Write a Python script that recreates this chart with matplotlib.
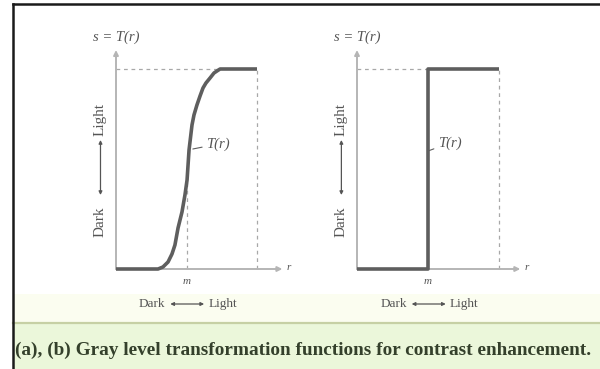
import matplotlib.pyplot as plt
from matplotlib.lines import Line2D
from matplotlib.patches import Rectangle

# (a) contrast stretching: points along s = T(r), r and s scaled to [0, 1]
curve_r = [0.0, 0.298, 0.333, 0.369, 0.397, 0.418, 0.440, 0.468, 0.489, 0.504,
           0.518, 0.539, 0.553, 0.574, 0.596, 0.617, 0.638, 0.667, 0.695,
           0.716, 0.738, 1.0]
curve_s = [0.0, 0.0, 0.01, 0.035, 0.075, 0.12, 0.205, 0.285, 0.37, 0.445,
           0.595, 0.72, 0.77, 0.82, 0.865, 0.905, 0.93, 0.955, 0.98,
           0.99, 1.0, 1.0]
curve_m_top = 0.445   # where the dashed line at m meets the curve
curve_knee = 0.738    # where the curve reaches the top level

# (b) thresholding function
step_r = [0.0, 0.5, 0.5, 1.0]
step_s = [0.0, 0.0, 1.0, 1.0]

m = 0.5
L = 1.0
caption = "(a), (b) Gray level transformation functions for contrast enhancement."

W, H = 600, 369
axis_c = "#b5b5b5"
dash_c = "#a8a8a8"
line_c = "#5e5e5e"
text_c = "#555555"
serif = "Liberation Serif"

fig = plt.figure(figsize=(W / 100, H / 100), dpi=100)
fig.patch.set_facecolor("white")

# caption band and frame
fig.add_artist(Rectangle((13 / W, 0), 1, (H - 294) / H, transform=fig.transFigure,
                         facecolor="#fbfdf0", edgecolor="none", zorder=0))
fig.add_artist(Rectangle((13 / W, 0), 1, (H - 323) / H, transform=fig.transFigure,
                         facecolor="#ebf7da", edgecolor="none", zorder=0))
fig.add_artist(Line2D([13 / W, 1], [(H - 323) / H] * 2, transform=fig.transFigure,
                      color="#c6d0a4", lw=1.6))
fig.add_artist(Line2D([13 / W, 13 / W], [0, (H - 4) / H], transform=fig.transFigure,
                      color="#1a1a1a", lw=1.8))
fig.add_artist(Line2D([13 / W, 1], [(H - 4) / H] * 2, transform=fig.transFigure,
                      color="#1a1a1a", lw=1.8))


def arrow(ax, start, end, lw=1.4, color=axis_c, style="-|>", scale=7):
    ax.annotate("", xy=end, xytext=start, annotation_clip=False,
                arrowprops=dict(arrowstyle=style, color=color, lw=lw,
                                mutation_scale=scale, shrinkA=0, shrinkB=0))


def draw_panel(ax, r, s, dash_top_end, m_top, label_at, point_at, x_arrow_end):
    ax.set_xlim(0, L)
    ax.set_ylim(0, L)
    ax.axis("off")

    # guide lines
    ax.plot([0, dash_top_end], [L, L], ls=(0, (3, 3)), color=dash_c, lw=0.9, clip_on=False)
    ax.plot([L, L], [0, L], ls=(0, (3, 3)), color=dash_c, lw=0.9, clip_on=False)
    if m_top is not None:
        ax.plot([m, m], [0, m_top], ls=(0, (3, 3)), color=dash_c, lw=0.9, clip_on=False)

    # coordinate axes
    arrow(ax, (0, 0), (x_arrow_end, 0))
    arrow(ax, (0, 0), (0, 1.095))

    ax.plot(r, s, color=line_c, lw=2.6, solid_capstyle="butt",
            solid_joinstyle="round", clip_on=False, zorder=3)

    ax.text(0, 1.16, "s = T(r)", ha="center", va="center", fontsize=10.5,
            family=serif, style="italic", color=text_c)
    ax.text(x_arrow_end + 0.03, 0.01, "r", ha="left", va="center", fontsize=8,
            family=serif, style="italic", color=text_c)
    ax.text(m, -0.06, "m", ha="center", va="center", fontsize=8,
            family=serif, style="italic", color=text_c)
    ax.annotate("T(r)", xy=point_at, xytext=label_at, ha="left", va="center",
                fontsize=10.5, family=serif, style="italic", color=text_c,
                annotation_clip=False,
                arrowprops=dict(arrowstyle="-", color=line_c, lw=0.8,
                                shrinkA=1, shrinkB=0))

    # intensity direction, horizontal
    ax.text(0.35, -0.175, "Dark", ha="right", va="center", fontsize=9.5,
            family=serif, color=text_c)
    arrow(ax, (0.385, -0.175), (0.625, -0.175), lw=0.9, color=text_c,
          style="<|-|>", scale=5)
    ax.text(0.655, -0.175, "Light", ha="left", va="center", fontsize=9.5,
            family=serif, color=text_c)

    # intensity direction, vertical
    ax.text(-0.11, 0.235, "Dark", ha="center", va="center", fontsize=11,
            family=serif, color=text_c, rotation=90)
    arrow(ax, (-0.11, 0.37), (-0.11, 0.645), lw=0.9, color=text_c,
          style="<|-|>", scale=5)
    ax.text(-0.11, 0.75, "Light", ha="center", va="center", fontsize=11,
            family=serif, color=text_c, rotation=90)


y0, y1 = 269, 69
ax_a = fig.add_axes([116 / W, (H - y0) / H, 141 / W, (y0 - y1) / H])
draw_panel(ax_a, curve_r, curve_s, curve_knee, curve_m_top,
           label_at=(0.64, 0.625), point_at=(0.545, 0.60), x_arrow_end=1.18)

ax_b = fig.add_axes([357 / W, (H - y0) / H, 142 / W, (y0 - y1) / H])
draw_panel(ax_b, step_r, step_s, m, None,
           label_at=(0.57, 0.63), point_at=(0.5, 0.59), x_arrow_end=1.15)

fig.text(303 / W, (H - 350) / H, caption, ha="center", va="center",
         fontsize=13.9, fontweight="bold", family=serif, color="#34402b")

fig.savefig("out.png", dpi=100)
